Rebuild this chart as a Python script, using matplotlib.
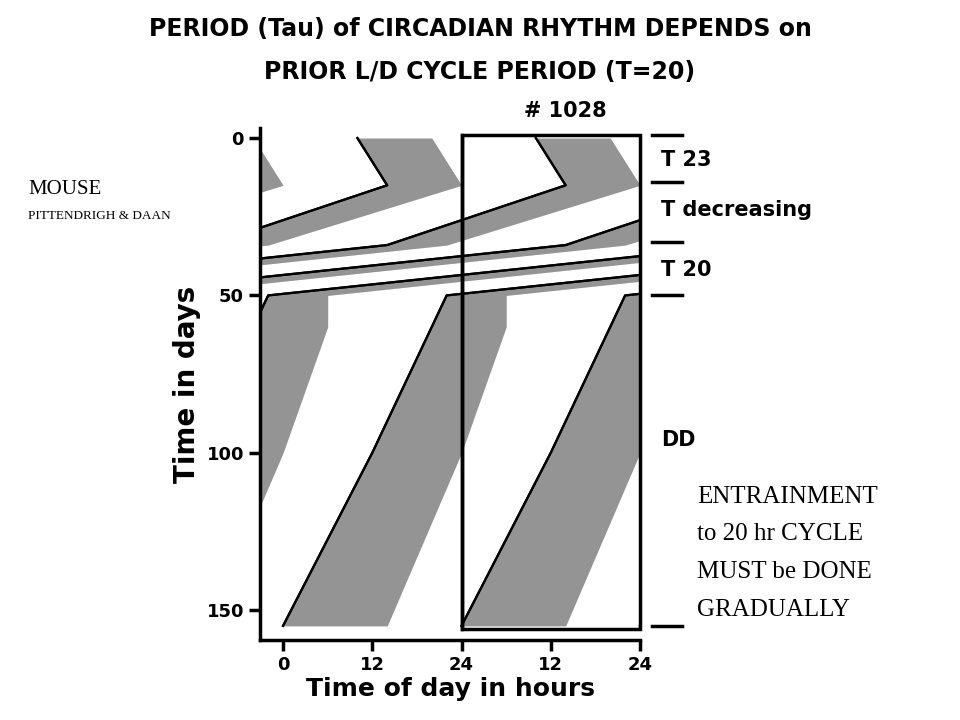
import numpy as np
import matplotlib
matplotlib.use("Agg")
import matplotlib.pyplot as plt
from matplotlib.patches import Rectangle

# key points of activity band (day, unwrapped onset hour, duration hours)
key_days = [0, 15, 34, 50, 60, 100, 155]
key_onsets = [10, 14, -10, -74, -76, -84, -96]
key_durs = [10, 10, 8, 8, 10, 12, 14]
phase_bounds = [-1, 14, 33, 50, 155]
phase_labels = ["T 23", "T decreasing", "T 20", "DD"]
phase_label_days = [7, 23, 42, 96]

fig = plt.figure(figsize=(9.6, 7.2), dpi=100)
fig.text(0.5, 0.960, "PERIOD (Tau) of CIRCADIAN RHYTHM DEPENDS on",
         ha="center", va="center", fontsize=17, fontweight="bold", family="DejaVu Sans")
fig.text(0.5, 0.900, "PRIOR L/D CYCLE PERIOD (T=20)",
         ha="center", va="center", fontsize=17, fontweight="bold", family="DejaVu Sans")

ax = fig.add_axes([260/960, 1-640/720, (640-260)/960, (640-128)/720])
ax.set_xlim(-3.1, 48)
ax.set_ylim(159.5, -3.2)

days = np.array(key_days, float)
on = np.array(key_onsets, float)
du = np.array(key_durs, float)
clip = Rectangle((-3.1, -1), 51.1, 157, transform=ax.transData)
for k in range(-2, 8):
    for shift in (0, 24):
        f = ax.fill_betweenx(days, on + k*24 + shift, on + du + k*24 + shift,
                             color="#666666", alpha=0.45, lw=0)
        f.set_clip_path(clip)
        l, = ax.plot(on + k*24 + shift, days, color="black", lw=1.6)
        l.set_clip_path(clip)
ax.plot([24, 24], [-1, 156], color="black", lw=2.5, zorder=5)
ax.add_patch(Rectangle((24, -1), 24, 157, fill=False, ec="black", lw=2.5, zorder=5, clip_on=False))

for s in ["top", "right"]:
    ax.spines[s].set_visible(False)
for s in ["left", "bottom"]:
    ax.spines[s].set_linewidth(2.5)
ax.set_yticks([0, 50, 100, 150])
ax.set_xticks([0, 12, 24, 36, 48])
ax.set_xticklabels(["0", "12", "24", "12", "24"])
ax.tick_params(width=2.5, length=8, labelsize=13)
for t in ax.get_xticklabels() + ax.get_yticklabels():
    t.set_fontweight("bold")
ax.set_ylabel("Time in days", fontsize=20, fontweight="bold")
ax.set_xlabel("Time of day in hours", fontsize=18, fontweight="bold", labelpad=2)
ax.text(38, -5.5, "# 1028", fontsize=15, fontweight="bold", ha="center", va="bottom")

for b in phase_bounds:
    ax.plot([49.6, 53.6], [b, b], color="black", lw=2.5, clip_on=False)
for lab, d in zip(phase_labels, phase_label_days):
    ax.text(50.8, d, lab, fontsize=15, fontweight="bold", va="center", clip_on=False)

fig.text(28/960, 1-190/720, "MOUSE", fontsize=15, family="Liberation Serif", va="center")
fig.text(28/960, 1-216/720, "PITTENDRIGH & DAAN", fontsize=9.5, family="Liberation Serif", va="center")
for i, line in enumerate(["ENTRAINMENT", "to 20 hr CYCLE", "MUST be DONE", "GRADUALLY"]):
    fig.text(697/960, 1-(497 + i*37.5)/720, line, fontsize=18, family="Liberation Serif", va="center")

fig.savefig("out.png", dpi=100)
